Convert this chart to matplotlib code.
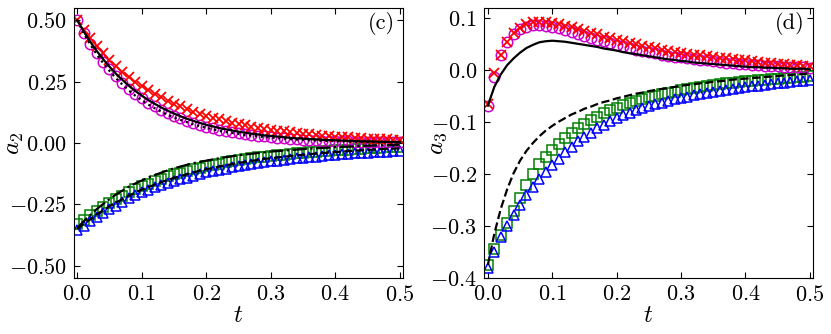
import numpy as np
import matplotlib
matplotlib.use("Agg")
import matplotlib.pyplot as plt

plt.rcParams['font.family'] = 'serif'
plt.rcParams['font.serif'] = ['cmr10', 'DejaVu Serif']
plt.rcParams['mathtext.fontset'] = 'cm'
plt.rcParams['axes.formatter.use_mathtext'] = True

# sampling times (step 0.01)
t = np.round(np.arange(51) * 0.01, 2)

# ---- panel (c): a2 ----
a2_circ = [0.500, 0.448, 0.405, 0.366, 0.331, 0.300, 0.271, 0.246, 0.222, 0.201,
           0.182, 0.165, 0.150, 0.136, 0.123, 0.111, 0.100, 0.091, 0.082, 0.074,
           0.067, 0.061, 0.055, 0.049, 0.045, 0.040, 0.036, 0.033, 0.030, 0.027,
           0.024, 0.022, 0.020, 0.018, 0.016, 0.014, 0.013, 0.012, 0.010, 0.009,
           0.008, 0.008, 0.007, 0.006, 0.005, 0.005, 0.004, 0.004, 0.003, 0.003, 0.003]
a2_cross = [0.500, 0.462, 0.427, 0.395, 0.366, 0.339, 0.314, 0.291, 0.270, 0.250,
            0.232, 0.215, 0.200, 0.186, 0.172, 0.160, 0.149, 0.138, 0.128, 0.119,
            0.111, 0.103, 0.096, 0.089, 0.083, 0.077, 0.072, 0.067, 0.062, 0.058,
            0.054, 0.050, 0.047, 0.043, 0.040, 0.038, 0.035, 0.033, 0.030, 0.028,
            0.026, 0.025, 0.023, 0.021, 0.020, 0.018, 0.017, 0.016, 0.015, 0.014, 0.013]
a2_sq = [-0.330, -0.312, -0.294, -0.277, -0.261, -0.245, -0.230, -0.215, -0.201, -0.188,
         -0.175, -0.165, -0.155, -0.145, -0.136, -0.128, -0.121, -0.114, -0.107, -0.100,
         -0.094, -0.089, -0.084, -0.079, -0.074, -0.069, -0.066, -0.062, -0.059, -0.055,
         -0.052, -0.050, -0.047, -0.045, -0.042, -0.040, -0.038, -0.036, -0.034, -0.032,
         -0.030, -0.028, -0.027, -0.025, -0.024, -0.022, -0.021, -0.020, -0.018, -0.017, -0.016]
a2_tri = [-0.355, -0.337, -0.319, -0.302, -0.286, -0.270, -0.255, -0.240, -0.226, -0.213,
          -0.200, -0.190, -0.181, -0.172, -0.163, -0.155, -0.148, -0.141, -0.134, -0.127,
          -0.120, -0.115, -0.109, -0.104, -0.099, -0.094, -0.090, -0.086, -0.082, -0.078,
          -0.075, -0.072, -0.069, -0.066, -0.063, -0.060, -0.058, -0.055, -0.053, -0.050,
          -0.048, -0.046, -0.044, -0.042, -0.041, -0.039, -0.038, -0.036, -0.035, -0.033, -0.032]
a2_solid = [0.500, 0.455, 0.413, 0.376, 0.342, 0.311, 0.282, 0.257, 0.233, 0.212,
            0.193, 0.175, 0.160, 0.145, 0.132, 0.120, 0.109, 0.099, 0.090, 0.082,
            0.074, 0.068, 0.061, 0.056, 0.051, 0.046, 0.042, 0.038, 0.035, 0.031,
            0.029, 0.026, 0.024, 0.021, 0.019, 0.018, 0.016, 0.015, 0.013, 0.012,
            0.011, 0.010, 0.009, 0.008, 0.007, 0.007, 0.006, 0.005, 0.005, 0.004, 0.004]
a2_dot = [0.500, 0.447, 0.402, 0.362, 0.326, 0.294, 0.264, 0.238, 0.214, 0.193,
          0.174, 0.157, 0.142, 0.128, 0.115, 0.104, 0.094, 0.085, 0.076, 0.069,
          0.062, 0.056, 0.050, 0.045, 0.041, 0.037, 0.033, 0.030, 0.027, 0.024,
          0.022, 0.020, 0.018, 0.016, 0.014, 0.013, 0.011, 0.010, 0.009, 0.008,
          0.007, 0.007, 0.006, 0.005, 0.005, 0.004, 0.004, 0.003, 0.003, 0.003, 0.002]
a2_dashdot = [-0.347, -0.319, -0.294, -0.270, -0.249, -0.229, -0.210, -0.194, -0.178, -0.165,
              -0.153, -0.141, -0.131, -0.121, -0.112, -0.103, -0.096, -0.089, -0.082, -0.077,
              -0.072, -0.067, -0.062, -0.058, -0.054, -0.050, -0.047, -0.044, -0.041, -0.038,
              -0.035, -0.033, -0.031, -0.029, -0.027, -0.025, -0.023, -0.022, -0.020, -0.019,
              -0.017, -0.016, -0.015, -0.014, -0.012, -0.011, -0.010, -0.009, -0.009, -0.008, -0.007]
a2_dash = [-0.350, -0.330, -0.311, -0.292, -0.275, -0.258, -0.243, -0.229, -0.215, -0.202,
           -0.190, -0.180, -0.170, -0.160, -0.151, -0.142, -0.135, -0.127, -0.120, -0.113,
           -0.107, -0.102, -0.096, -0.091, -0.086, -0.081, -0.077, -0.073, -0.069, -0.065,
           -0.062, -0.059, -0.056, -0.053, -0.050, -0.048, -0.046, -0.043, -0.041, -0.039,
           -0.037, -0.035, -0.033, -0.031, -0.030, -0.028, -0.027, -0.025, -0.024, -0.023, -0.022]

# ---- panel (d): a3 ----
a3_circ = [-0.068, -0.012, 0.030, 0.055, 0.070, 0.079, 0.084, 0.087, 0.087, 0.086,
           0.084, 0.081, 0.078, 0.074, 0.070, 0.067, 0.063, 0.059, 0.056, 0.052,
           0.049, 0.046, 0.043, 0.040, 0.037, 0.035, 0.033, 0.030, 0.028, 0.026,
           0.025, 0.023, 0.021, 0.020, 0.019, 0.017, 0.016, 0.015, 0.014, 0.013,
           0.012, 0.011, 0.010, 0.009, 0.009, 0.008, 0.007, 0.007, 0.006, 0.006, 0.005]
a3_cross = [-0.065, -0.006, 0.030, 0.055, 0.071, 0.082, 0.089, 0.093, 0.094, 0.093,
            0.091, 0.089, 0.086, 0.083, 0.079, 0.076, 0.072, 0.069, 0.065, 0.062,
            0.059, 0.056, 0.053, 0.050, 0.047, 0.045, 0.043, 0.040, 0.038, 0.036,
            0.034, 0.032, 0.030, 0.029, 0.027, 0.026, 0.024, 0.023, 0.021, 0.020,
            0.019, 0.017, 0.016, 0.015, 0.014, 0.013, 0.012, 0.011, 0.010, 0.009, 0.008]
a3_sq = [-0.375, -0.345, -0.318, -0.294, -0.270, -0.245, -0.220, -0.199, -0.181, -0.166,
         -0.153, -0.141, -0.130, -0.120, -0.111, -0.103, -0.096, -0.089, -0.083, -0.077,
         -0.072, -0.067, -0.063, -0.059, -0.055, -0.052, -0.049, -0.046, -0.043, -0.041,
         -0.038, -0.036, -0.034, -0.032, -0.030, -0.028, -0.027, -0.025, -0.024, -0.022,
         -0.021, -0.020, -0.019, -0.018, -0.017, -0.016, -0.015, -0.014, -0.013, -0.012, -0.011]
a3_tri = [-0.380, -0.350, -0.321, -0.299, -0.278, -0.259, -0.241, -0.225, -0.210, -0.196,
          -0.183, -0.170, -0.158, -0.147, -0.137, -0.128, -0.120, -0.112, -0.105, -0.098,
          -0.092, -0.087, -0.082, -0.077, -0.073, -0.069, -0.065, -0.062, -0.059, -0.056,
          -0.053, -0.051, -0.048, -0.046, -0.044, -0.042, -0.040, -0.038, -0.036, -0.034,
          -0.033, -0.031, -0.030, -0.028, -0.027, -0.025, -0.024, -0.023, -0.021, -0.020, -0.019]
a3_solid = [-0.068, -0.032, -0.008, 0.010, 0.023, 0.034, 0.043, 0.049, 0.054, 0.056,
            0.057, 0.056, 0.055, 0.053, 0.051, 0.049, 0.047, 0.045, 0.042, 0.040,
            0.038, 0.035, 0.033, 0.031, 0.029, 0.027, 0.025, 0.023, 0.021, 0.020,
            0.018, 0.017, 0.015, 0.014, 0.013, 0.012, 0.011, 0.010, 0.009, 0.008,
            0.007, 0.006, 0.006, 0.005, 0.005, 0.004, 0.004, 0.003, 0.003, 0.003, 0.002]
a3_dash = [-0.375, -0.315, -0.267, -0.229, -0.198, -0.174, -0.155, -0.140, -0.127, -0.116,
           -0.107, -0.099, -0.092, -0.085, -0.080, -0.074, -0.070, -0.065, -0.061, -0.058,
           -0.054, -0.051, -0.048, -0.045, -0.043, -0.040, -0.038, -0.036, -0.034, -0.032,
           -0.030, -0.028, -0.027, -0.025, -0.024, -0.022, -0.021, -0.020, -0.018, -0.017,
           -0.016, -0.015, -0.014, -0.013, -0.012, -0.011, -0.010, -0.009, -0.008, -0.007, -0.006]

fig = plt.figure(figsize=(8.31, 3.34), dpi=100)
ax1 = fig.add_axes([74 / 831, 56 / 334, 329 / 831, 270 / 334])
ax2 = fig.add_axes([484 / 831, 56 / 334, 329 / 831, 270 / 334])

ms = 7.5
mew = 1.1

def draw_markers(ax, circ, cross, sq, tri):
    ax.plot(t, sq, 's', ms=ms, mfc='none', mec='#008000', mew=mew)
    ax.plot(t, tri, '^', ms=ms, mfc='none', mec='#0000ff', mew=mew)
    ax.plot(t, circ, 'o', ms=ms, mfc='none', mec='#cc00cc', mew=mew)
    ax.plot(t, cross, 'x', ms=ms, mec='#ff0000', mew=mew + 0.2)

draw_markers(ax1, a2_circ, a2_cross, a2_sq, a2_tri)
ax1.plot(t, a2_solid, '-', color='k', lw=1.6)
ax1.plot(t, a2_dot, ':', color='k', lw=1.6)
ax1.plot(t, a2_dashdot, '-.', color='k', lw=1.6)
ax1.plot(t, a2_dash, '--', color='k', lw=1.6)

draw_markers(ax2, a3_circ, a3_cross, a3_sq, a3_tri)
ax2.plot(t, a3_solid, '-', color='k', lw=1.6)
ax2.plot(t, a3_dash, '--', color='k', lw=1.6)

ax1.set_xlim(-0.005, 0.505)
ax1.set_ylim(-0.55, 0.55)
ax1.set_yticks([-0.5, -0.25, 0.0, 0.25, 0.5])
ax2.set_xlim(-0.006, 0.505)
ax2.set_ylim(-0.4, 0.12)
ax2.set_yticks([-0.4, -0.3, -0.2, -0.1, 0.0, 0.1])

for ax, lab, tag, lx in [(ax1, r'$a_2$', '(c)', -0.146), (ax2, r'$a_3$', '(d)', -0.107)]:
    ax.set_xticks([0.0, 0.1, 0.2, 0.3, 0.4, 0.5])
    ax.tick_params(direction='in', top=True, right=True, length=4, width=0.8,
                   labelsize=16, pad=5)
    ax.set_xlabel(r'$t$', fontsize=18, labelpad=0)
    ax.set_ylabel(lab, fontsize=18)
    ax.yaxis.set_label_coords(lx, 0.5)
    ax.text(0.975, 0.985, tag, transform=ax.transAxes, ha='right', va='top', fontsize=16)

fig.savefig('out.png', dpi=100)
